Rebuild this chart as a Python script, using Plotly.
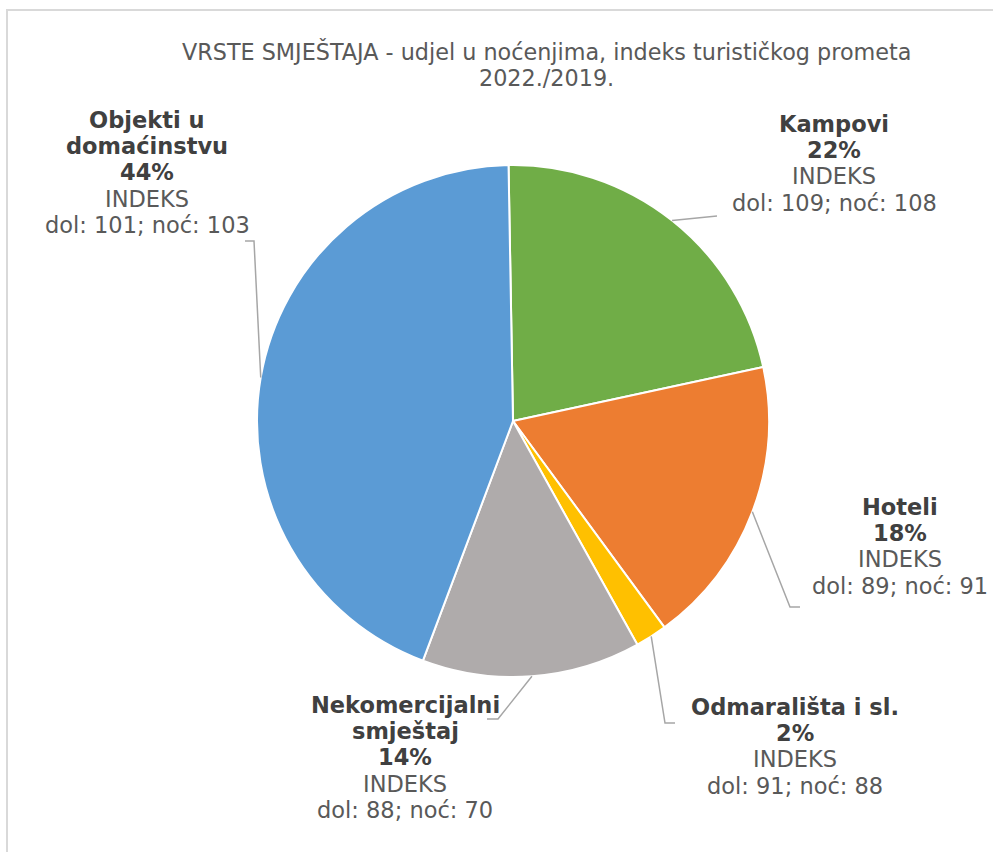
import math
import plotly.graph_objects as go

# ---- data ----
categories = ["Kampovi", "Hoteli", "Odmarališta i sl.", "Nekomercijalni smještaj", "Objekti u domaćinstvu"]
label_names = [["Kampovi"], ["Hoteli"], ["Odmarališta i sl."], ["Nekomercijalni", "smještaj"], ["Objekti u", "domaćinstvu"]]
shares = [21.9, 18.3, 2.0, 13.8, 44.0]
index_dol = [109, 89, 91, 88, 101]
index_noc = [108, 91, 88, 70, 103]
colors = ["#70AD47", "#ED7D31", "#FFC000", "#AFABAB", "#5B9BD5"]
title_lines = ["VRSTE SMJEŠTAJA - udjel u noćenjima, indeks turističkog prometa", "2022./2019."]

# ---- layout (screen pixels; body margin removed by post_script) ----
OFF = 0
W, H = 993, 852
CX, CY, R = 513, 421, 256
ROTATION = -1
label_pos = [(834, 124), (900, 507), (795, 707), (405, 705), (147, 120)]  # center x, first line y
LINE_H = 26.2
leader_rest = [
    [(717, 216)],
    [(790, 607), (800, 607)],
    [(665, 723), (675, 723)],
    [(498, 719), (487, 719)],
    [(254, 241), (245, 241)],
]
FONT = "DejaVu Sans"
BOLD_C = "#404040"
TXT_C = "#595959"


def px(x, y):
    return (x - OFF) / W, 1 - (y - OFF) / H


x0, y1 = px(CX - R, CY - R)
x1, y0 = px(CX + R, CY + R)
fig = go.Figure(go.Pie(
    labels=categories, values=shares, sort=False, direction="clockwise",
    rotation=ROTATION, textinfo="none", hoverinfo="label+percent",
    marker=dict(colors=colors, line=dict(color="white", width=2)),
    domain=dict(x=[x0, x1], y=[y0, y1]),
    showlegend=False,
))

total = sum(shares)
bx0, by1 = px(7, 10)
bx1, by0 = px(1010, 880)
shapes = [dict(type="rect", xref="paper", yref="paper",
               x0=bx0, y0=by0, x1=bx1, y1=by1,
               line=dict(color="#D9D9D9", width=2), layer="below")]
annotations = []


def add_line(x, y, text, size, color):
    ax, ay = px(x, y)
    annotations.append(dict(x=ax, y=ay, xref="paper", yref="paper", text=text,
                            showarrow=False, xanchor="center", yanchor="middle",
                            font=dict(family=FONT, size=size, color=color)))


cum = 0.0
for i, v in enumerate(shares):
    mid = ROTATION + (cum + v / 2) / total * 360
    cum += v
    a = math.radians(mid)
    sx, sy = CX + R * math.sin(a), CY - R * math.cos(a)
    pts = [(sx, sy)] + leader_rest[i]
    path = "M " + " L ".join("%f,%f" % px(x, y) for x, y in pts)
    shapes.append(dict(type="path", xref="paper", yref="paper", path=path,
                       line=dict(color="#A6A6A6", width=1.5)))
    pct = round(v / total * 100)
    lines = [("<b>%s</b>" % n, BOLD_C) for n in label_names[i]]
    lines += [("<b>%d%%</b>" % pct, BOLD_C), ("INDEKS", TXT_C),
              ("dol: %d; noć: %d" % (index_dol[i], index_noc[i]), TXT_C)]
    lx, ly = label_pos[i]
    for k, (t, c) in enumerate(lines):
        add_line(lx, ly + k * LINE_H, t, 22.5, c)

for k, t in enumerate(title_lines):
    add_line(546, 52 + k * 26, t, 22.3, TXT_C)

fig.update_layout(width=W, height=H, margin=dict(l=0, r=0, t=0, b=0),
                  paper_bgcolor="white", plot_bgcolor="white",
                  shapes=shapes, annotations=annotations)
fig.write_html("out.html", config={"displayModeBar": False},
               post_script="document.body.style.margin='0px';document.body.style.overflow='hidden';")
